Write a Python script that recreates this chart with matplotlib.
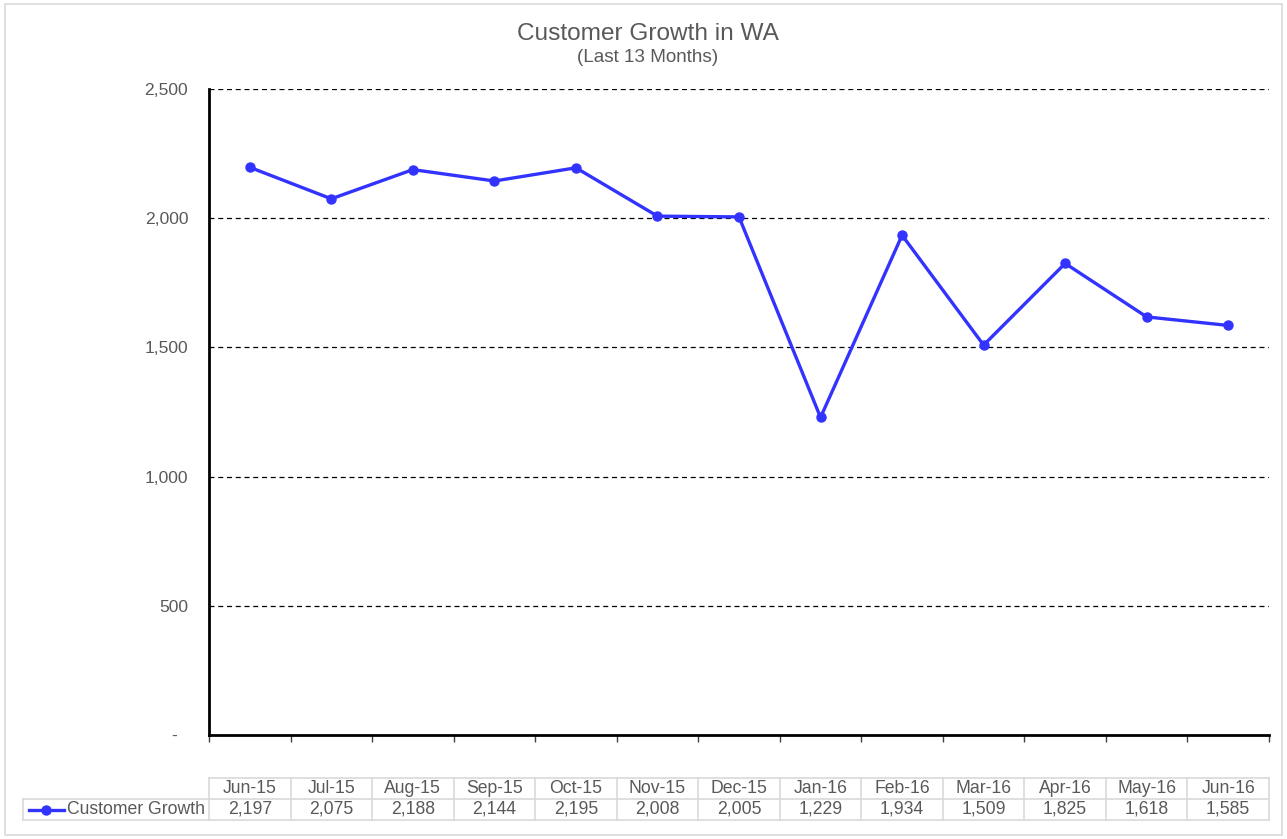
import matplotlib
matplotlib.use("Agg")
import matplotlib.pyplot as plt
from matplotlib.lines import Line2D
from matplotlib.patches import Rectangle

months = ["Jun-15", "Jul-15", "Aug-15", "Sep-15", "Oct-15", "Nov-15", "Dec-15",
          "Jan-16", "Feb-16", "Mar-16", "Apr-16", "May-16", "Jun-16"]
customer_growth = [2197, 2075, 2188, 2144, 2195, 2008, 2005, 1229, 1934, 1509, 1825, 1618, 1585]
series_name = "Customer Growth"
y_ticks = [0, 500, 1000, 1500, 2000, 2500]
y_tick_labels = ["-", "500", "1,000", "1,500", "2,000", "2,500"]

plt.rcParams['font.family'] = ['Liberation Sans', 'DejaVu Sans']
W, H = 1287, 839
fig = plt.figure(figsize=(W / 100, H / 100), dpi=100)
GRAY = "#595959"
BLUE = "#3333FF"
BORDER = "#d9d9d9"
TFS = 12.7

# outer border
fig.patches.append(Rectangle((5 / W, 1 - 835 / H), (1282 - 5) / W, (835 - 4) / H,
                             transform=fig.transFigure, fill=False, edgecolor=BORDER, lw=1.2))

ax_l, ax_r, ax_t, ax_b = 209, 1269, 89, 735
ax = fig.add_axes([ax_l / W, 1 - ax_b / H, (ax_r - ax_l) / W, (ax_b - ax_t) / H])
n = len(months)
x = list(range(n))
ax.plot(x, customer_growth, color=BLUE, lw=2.4, marker='o', ms=6.5, zorder=3)
ax.set_xlim(-0.5, n - 0.5)
ax.set_ylim(0, 2500)
ax.set_yticks(y_ticks)
ax.set_yticklabels(y_tick_labels)
for t in ax.get_yticklabels():
    t.set_color(GRAY)
    t.set_fontsize(12.6)
ax.tick_params(axis='y', length=0, pad=15)
ax.set_xticks([i - 0.5 for i in range(n + 1)])
ax.set_xticklabels([])
ax.tick_params(axis='x', length=5, width=1, color="#404040", direction='out')
for y in y_ticks[1:]:
    ax.axhline(y, color='black', lw=0.9, ls=(0, (4, 3)), zorder=1)
for s in ['top', 'right']:
    ax.spines[s].set_visible(False)
ax.spines['left'].set_linewidth(2)
ax.spines['bottom'].set_linewidth(2)
ax.spines['left'].set_color('black')
ax.spines['bottom'].set_color('black')
# move "-" label a bit left like Excel accounting format
ax.get_yticklabels()[0].set_x(-0.0105)

fig.text(0.5035, 1 - 33.5 / H, "Customer Growth in WA", ha='center', va='center',
         fontsize=17.6, color=GRAY)
fig.text(0.5035, 1 - 58 / H, "(Last 13 Months)", ha='center', va='center',
         fontsize=13.6, color=GRAY)

# data table
tb_t, tb_b = 778, 820
tax = fig.add_axes([ax_l / W, 1 - tb_b / H, (ax_r - ax_l) / W, (tb_b - tb_t) / H])
tax.set_xlim(-0.5, n - 0.5)
tax.set_ylim(0, 2)
tax.axis('off')
unit = (ax_r - ax_l) / n
left_x = -0.5 - (ax_l - 23) / unit
lk = dict(color=BORDER, lw=1.2, clip_on=False)
tax.plot([-0.5, n - 0.5], [2, 2], **lk)
tax.plot([left_x, n - 0.5], [1, 1], **lk)
tax.plot([left_x, n - 0.5], [0, 0], **lk)
for i in range(n + 1):
    tax.plot([i - 0.5, i - 0.5], [0, 2], **lk)
tax.plot([left_x, left_x], [0, 1], **lk)
for i, (m, v) in enumerate(zip(months, customer_growth)):
    tax.text(i, 1.5, m, ha='center', va='center', fontsize=TFS, color=GRAY)
    tax.text(i, 0.5, f"{v:,}", ha='center', va='center', fontsize=TFS, color=GRAY)
k0 = -0.5 - (ax_l - 29) / unit
k1 = -0.5 - (ax_l - 64) / unit
tax.add_line(Line2D([k0, k1], [0.5, 0.5], color=BLUE, lw=2.4, clip_on=False))
tax.add_line(Line2D([(k0 + k1) / 2], [0.5], color=BLUE, marker='o', ms=6.5, clip_on=False))
tax.text(-0.5 - (ax_l - 67) / unit, 0.5, series_name, ha='left', va='center',
         fontsize=TFS, color=GRAY)

fig.savefig("out.png", dpi=100)
